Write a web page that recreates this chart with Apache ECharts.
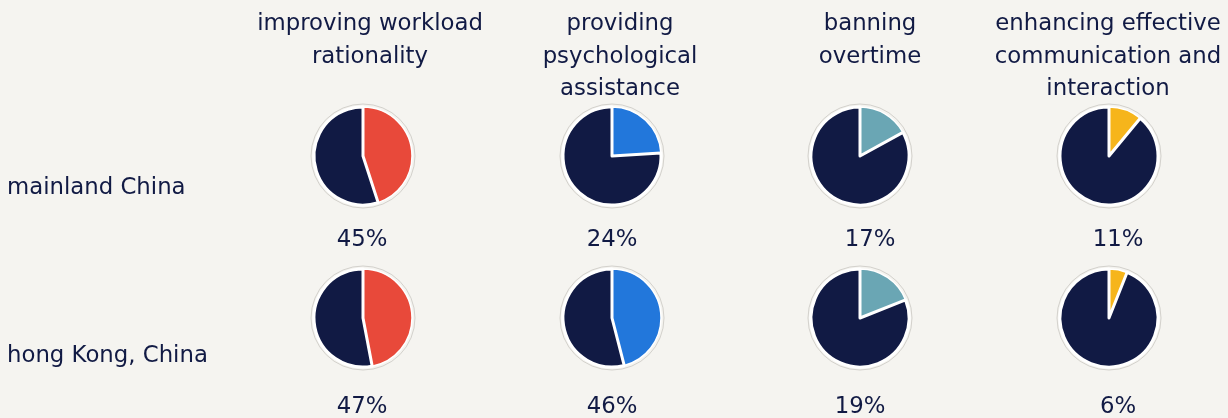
<!DOCTYPE html>
<html><head><meta charset="utf-8">
<script src="https://cdn.jsdelivr.net/npm/echarts@6/dist/echarts.min.js"></script>
<style>html,body{margin:0;padding:0;background:#f5f4f0}#c{width:1228px;height:418px}</style>
</head><body><div id="c"></div>
<script>
const measures = ['improving workload\nrationality','providing\npsychological\nassistance','banning\novertime','enhancing effective\ncommunication and\ninteraction'];
const regions = ['mainland China','hong Kong, China'];
const mainlandValues = [45, 24, 17, 11];
const hongKongValues = [47, 46, 19, 6];
const measureColors = ['#e8493a','#2277db','#6aa6b4','#f6b51b'];

const NAVY = '#111a44', BG = '#f5f4f0', FONT = 'DejaVu Sans', FS = 22.8;
const colX = [363, 612, 860, 1109];
const headX = [370, 620, 870, 1108];
const pctX = [[362, 612, 870, 1118], [362, 612, 860, 1118]];
const rowY = [156, 318];
const pctY = [240, 407];
const rowLabelY = [188, 356];
const R = 49;

const rows = [mainlandValues, hongKongValues];
const series = [];
const titles = [];
measures.forEach((m, j) => {
  titles.push({text: m, left: headX[j], top: 8, textAlign: 'center', padding: 0,
    textStyle: {fontFamily: FONT, fontSize: FS, fontWeight: 'normal', color: NAVY, lineHeight: 32.5}});
});
regions.forEach((r, i) => {
  titles.push({text: r, left: 7, top: rowLabelY[i] - 11, textAlign: 'left', padding: 0,
    textStyle: {fontFamily: FONT, fontSize: FS, fontWeight: 'normal', color: NAVY}});
});
rows.forEach((vals, i) => {
  vals.forEach((v, j) => {
    series.push({type: 'pie', silent: true, center: [colX[j], rowY[i]], radius: R + 3,
      label: {show: false}, labelLine: {show: false}, z: 1,
      itemStyle: {color: BG, borderColor: '#d3d1cc', borderWidth: 1},
      data: [{value: 1}]});
    series.push({type: 'pie', silent: true, center: [colX[j], rowY[i]], radius: R,
      startAngle: 90, clockwise: true, label: {show: false}, labelLine: {show: false}, z: 2,
      data: [
        {value: v, itemStyle: {color: measureColors[j], borderColor: '#ffffff', borderWidth: 1.5}},
        {value: 100 - v, itemStyle: {color: NAVY, borderColor: '#ffffff', borderWidth: 3}}
      ]});
    titles.push({text: v + '%', left: pctX[i][j], top: pctY[i] - 11, textAlign: 'center', padding: 0,
      textStyle: {fontFamily: FONT, fontSize: FS, fontWeight: 'normal', color: NAVY}});
  });
});

const chart = echarts.init(document.getElementById('c'), null, {renderer: 'canvas'});
chart.setOption({backgroundColor: BG, animation: false, title: titles, series: series});
</script></body></html>
